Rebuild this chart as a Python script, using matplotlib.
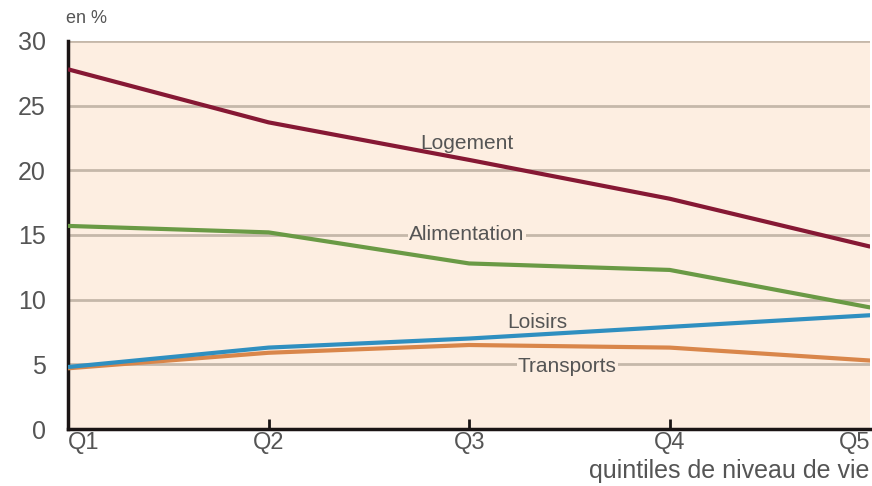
import matplotlib
matplotlib.use("Agg")
import matplotlib.pyplot as plt

quintiles = ["Q1", "Q2", "Q3", "Q4", "Q5"]
logement = [27.8, 23.7, 20.8, 17.8, 14.1]
alimentation = [15.7, 15.2, 12.8, 12.3, 9.4]
loisirs = [4.8, 6.3, 7.0, 7.9, 8.8]
transports = [4.7, 5.9, 6.5, 6.3, 5.3]
yticks = [0, 5, 10, 15, 20, 25, 30]

plt.rcParams['font.family'] = ['Liberation Sans', 'DejaVu Sans']
BG = '#fdeee1'
TXT = '#555555'
GRID = '#c5b8aa'

fig = plt.figure(figsize=(8.72, 4.86), dpi=100)
ax = fig.add_axes([0.078, 0.117, 0.92, 0.799])
ax.set_facecolor(BG)
x = list(range(len(quintiles)))

ax.plot(x, transports, color='#d9864a', lw=3, zorder=3, solid_capstyle='butt')
ax.plot(x, loisirs, color='#2f8fc0', lw=3, zorder=4, solid_capstyle='butt')
ax.plot(x, alimentation, color='#6a9a45', lw=3, zorder=3, solid_capstyle='butt')
ax.plot(x, logement, color='#861834', lw=3, zorder=3, solid_capstyle='butt')

ax.set_xlim(0, 4)
ax.set_ylim(0, 30)
ax.set_yticks(yticks)
ax.set_yticklabels([str(v) for v in yticks])
ax.yaxis.grid(True, color=GRID, lw=2)
ax.set_axisbelow(True)
ax.set_xticks(x)
ax.set_xticklabels(quintiles)
for sp in ['top', 'right']:
    ax.spines[sp].set_visible(False)
for sp in ['left', 'bottom']:
    ax.spines[sp].set_linewidth(2.5)
    ax.spines[sp].set_color('#1a1414')
ax.tick_params(axis='y', length=0, pad=16, labelsize=18, labelcolor=TXT)
ax.tick_params(axis='x', direction='in', length=7, width=2, pad=2, labelsize=17,
               labelcolor=TXT, color='#1a1414')
xl = ax.get_xticklabels()
xl[0].set_horizontalalignment('left')
xl[-1].set_horizontalalignment('right')
ax.xaxis.get_major_ticks()[0].tick1line.set_visible(False)
ax.xaxis.get_major_ticks()[-1].tick1line.set_visible(False)

box = dict(facecolor=BG, edgecolor='none', pad=1)
ax.text(1.99, 22.1, "Logement", fontsize=15, color=TXT, ha='center', va='center', bbox=box, zorder=2.5)
ax.text(1.99, 15.0, "Alimentation", fontsize=15, color=TXT, ha='center', va='center', bbox=box, zorder=2.5)
ax.text(2.34, 8.2, "Loisirs", fontsize=15, color=TXT, ha='center', va='center', zorder=5)
ax.text(2.49, 4.85, "Transports", fontsize=15, color=TXT, ha='center', va='center', bbox=box, zorder=2.5)

fig.text(0.099, 0.961, "en %", fontsize=13, color=TXT, ha='center', va='center')
fig.text(0.997, 0.031, "quintiles de niveau de vie", fontsize=18, color=TXT, ha='right', va='center')

fig.savefig("out.png", dpi=100, facecolor='white')
